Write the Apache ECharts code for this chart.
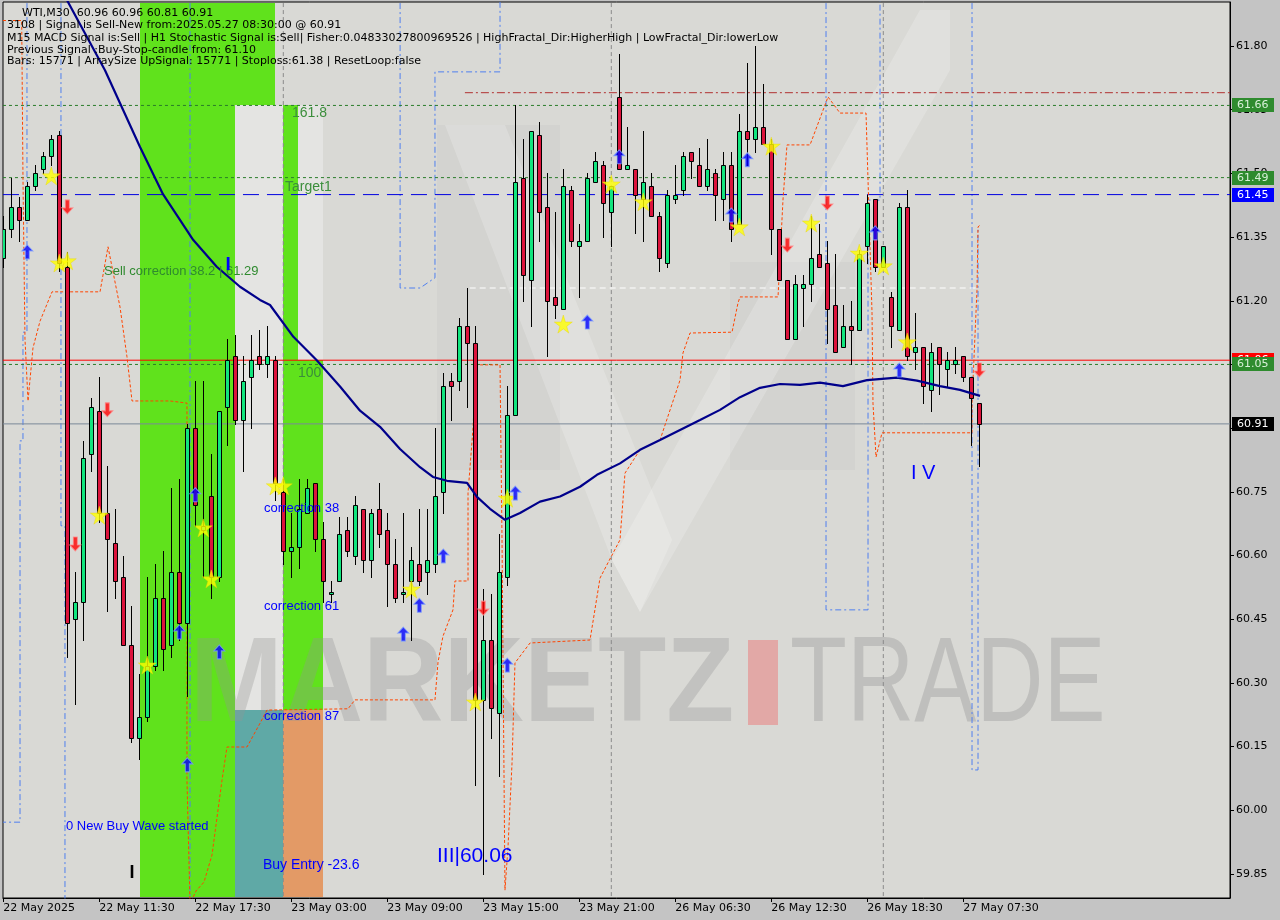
<!DOCTYPE html>
<html><head><meta charset="utf-8">
<script src="https://cdn.jsdelivr.net/npm/echarts@6/dist/echarts.min.js"></script>
<style>html,body{margin:0;padding:0;background:#c4c4c4;}#c{width:1280px;height:920px;}</style>
</head><body><div id="c"></div>
<script>
// ---------------- data ----------------
const timeLabels = ['22 May 2025','22 May 11:30','22 May 17:30','23 May 03:00','23 May 09:00','23 May 15:00','23 May 21:00','26 May 06:30','26 May 12:30','26 May 18:30','27 May 07:30'];
const timeTickIndex = [0,12,24,36,48,60,72,84,96,108,120];
const priceTicks = [59.85,60.00,60.15,60.30,60.45,60.60,60.75,60.90,61.05,61.20,61.35,61.50,61.65,61.80];

const opens = [61.30,61.37,61.42,61.39,61.47,61.51,61.54,61.59,61.28,60.45,
60.49,60.84,60.94,60.70,60.63,60.55,60.39,60.17,60.22,60.34,
60.50,60.39,60.56,60.44,60.90,60.66,60.74,60.55,60.95,61.07,
60.92,61.02,61.07,61.05,61.06,60.75,60.61,60.62,60.70,60.77,
60.64,60.51,60.54,60.66,60.60,60.71,60.59,60.71,60.66,60.58,
60.51,60.54,60.58,60.56,60.58,60.75,61.01,61.01,61.14,61.10,
60.26,60.40,60.23,60.55,60.93,61.49,61.25,61.59,61.42,61.21,
61.18,61.46,61.33,61.34,61.48,61.52,61.41,61.68,61.51,61.51,
61.44,61.47,61.40,61.29,61.44,61.46,61.55,61.52,61.47,61.50,
61.44,61.52,61.38,61.60,61.58,61.61,61.57,61.37,61.25,61.11,
61.23,61.24,61.31,61.29,61.19,61.09,61.14,61.13,61.33,61.44,
61.28,61.21,61.13,61.42,61.08,61.09,60.99,61.09,61.04,61.05,
61.07,61.02,60.96];
const highs = [61.40,61.49,61.445,61.48,61.52,61.55,61.59,61.60,61.315,60.56,
60.87,60.97,61.02,60.81,60.71,60.60,60.48,60.32,60.55,60.58,
60.61,60.76,60.78,60.91,61.01,61.01,60.84,60.94,61.11,61.12,
61.07,61.12,61.13,61.14,61.07,60.78,60.70,60.78,60.78,60.77,
60.68,60.54,60.69,60.69,60.74,60.71,60.71,60.77,60.70,60.64,
60.70,60.62,60.71,60.71,60.90,61.03,61.03,61.16,61.23,61.14,
60.52,60.51,60.65,61.00,61.66,61.58,61.60,61.62,61.50,61.41,
61.51,61.47,61.38,61.50,61.55,61.53,61.47,61.78,61.61,61.51,
61.60,61.50,61.41,61.46,61.52,61.55,61.55,61.56,61.58,61.51,
61.55,61.55,61.64,61.76,61.80,61.71,61.58,61.37,61.25,61.26,
61.26,61.40,61.38,61.34,61.31,61.19,61.20,61.32,61.45,61.44,
61.33,61.22,61.43,61.46,61.17,61.09,61.10,61.09,61.08,61.09,
61.07,61.02,60.96];
const lows = [61.28,61.35,61.34,61.39,61.46,61.50,61.52,61.27,60.36,60.25,
60.40,60.80,60.68,60.47,60.50,60.39,60.16,60.12,60.21,60.33,
60.33,60.36,60.40,60.27,60.67,60.55,60.50,60.54,60.86,60.91,
60.80,60.90,61.04,61.02,60.73,60.58,60.55,60.57,60.70,60.61,
60.49,60.49,60.54,60.60,60.58,60.56,60.55,60.62,60.48,60.49,
60.49,60.40,60.53,60.51,60.56,60.70,60.92,60.99,60.95,60.06,
59.85,60.17,60.08,60.53,60.93,61.20,61.14,61.34,61.07,61.16,
61.18,61.33,61.21,61.34,61.48,61.35,61.33,61.51,61.51,61.36,
61.34,61.40,61.27,61.28,61.43,61.45,61.49,61.47,61.46,61.39,
61.39,61.34,61.38,61.52,61.55,61.57,61.31,61.25,61.11,61.11,
61.14,61.20,61.28,61.10,61.08,61.09,61.05,61.13,61.29,61.27,
61.28,61.09,61.13,61.06,61.04,60.96,60.94,60.98,61.00,61.03,
61.01,60.86,60.81];
const closes = [61.37,61.42,61.39,61.47,61.50,61.54,61.58,61.29,60.44,60.49,
60.83,60.95,60.70,60.64,60.54,60.39,60.17,60.22,60.34,60.50,
60.38,60.56,60.44,60.90,60.72,60.67,60.55,60.94,61.06,60.92,
61.01,61.06,61.05,61.07,60.77,60.61,60.62,60.71,60.76,60.64,
60.54,60.515,60.65,60.61,60.72,60.59,60.70,60.65,60.58,60.50,
60.515,60.59,60.54,60.59,60.74,61.00,61.00,61.14,61.10,60.26,
60.40,60.24,60.56,60.93,61.48,61.26,61.60,61.41,61.20,61.19,
61.47,61.34,61.34,61.49,61.53,61.43,61.47,61.51,61.52,61.45,
61.48,61.40,61.30,61.45,61.45,61.54,61.53,61.47,61.51,61.45,
61.52,61.37,61.60,61.58,61.61,61.57,61.37,61.25,61.11,61.24,
61.24,61.30,61.28,61.18,61.08,61.14,61.13,61.31,61.43,61.28,
61.33,61.14,61.42,61.07,61.09,61.00,61.08,61.05,61.06,61.06,
61.02,60.97,60.91];

// moving average (bar index, price)
const maPoints = [[6.9,61.97],[7.96,61.908],[12.71,61.743],[17.09,61.562],[19.96,61.451],[23.75,61.343],[26.68,61.280],[29.59,61.233],[32.09,61.202],[33.34,61.19],[36.26,61.115],[39.18,61.060],[42.09,60.998],[44.59,60.941],[47.09,60.903],[49.59,60.851],[52.09,60.808],[53.71,60.785],[55.46,60.776],[57.96,60.771],[59.21,60.738],[60.84,60.710],[62.71,60.684],[64.59,60.700],[67.09,60.727],[69.59,60.739],[72.09,60.762],[74.21,60.790],[77.09,60.817],[79.59,60.849],[82.09,60.872],[87.09,60.919],[89.59,60.943],[92.09,60.973],[94.59,60.995],[97.09,61.004],[99.59,61.002],[102.09,61.007],[104.96,60.999],[107.96,61.013],[111.71,61.019],[114.21,61.012],[117.09,60.999],[119.59,60.990],[122.09,60.976]];

// orange stepped trailing line (bar index, price)
const trailPoints = [[-0.04,61.86],[2.3,61.86],[2.46,61.489],[2.71,61.110],[3.09,60.964],[3.71,61.089],[4.59,61.152],[6.09,61.221],[12.09,61.221],[13.09,61.327],[14.59,61.185],[15.46,61.068],[16.09,60.964],[20.84,60.964],[22.96,60.959],[22.96,60.071],[23.34,59.78],[24.09,59.810],[25.09,59.831],[26.09,59.895],[27.34,60.071],[27.96,60.149],[30.46,60.149],[32.09,60.205],[32.96,60.236],[43.09,60.239],[43.96,60.260],[53.96,60.260],[54.34,60.349],[54.96,60.410],[56.21,60.472],[56.46,60.540],[58.09,60.540],[58.09,60.747],[58.71,60.898],[59.09,61.049],[62.09,61.049],[62.34,60.637],[62.71,59.812],[63.09,59.914],[63.59,60.111],[63.96,60.347],[65.84,60.394],[73.34,60.401],[74.59,60.547],[76.09,60.601],[77.09,60.637],[77.71,60.794],[79.59,60.849],[82.09,60.872],[84.59,61.013],[84.96,61.077],[85.84,61.124],[91.09,61.126],[91.84,61.195],[92.09,61.209],[96.84,61.209],[97.46,61.437],[97.96,61.567],[100.84,61.567],[103.09,61.680],[104.59,61.642],[107.84,61.642],[108.09,61.484],[108.59,61.171],[108.71,60.959],[109.09,60.832],[109.84,60.889],[121.09,60.889],[121.09,60.959],[121.71,61.225],[121.84,61.374],[122.09,61.378]];

// blue dash-dot fractal channel pieces (bar index, price)
const channelA = [[2.96,62.0],[2.96,61.126],[2.46,61.126],[2.46,60.870],[2.09,60.870],[2.09,59.972],[-0.04,59.972]];
const channelB = [[7.21,62.0],[7.21,60.670],[7.71,60.670],[7.71,59.70]];
const channelC = [[23.34,62.0],[23.34,59.70]];
const channelD = [[49.6,62.0],[49.6,61.230],[52.09,61.230],[53.96,61.254],[53.96,61.739],[62.09,61.739],[62.09,62.0]];
const channelE = [[102.84,62.0],[102.84,60.472],[108.09,60.472],[108.09,61.437],[109.59,61.437],[109.59,62.0]];
const channelF = [[121.09,62.0],[121.09,60.095],[121.84,60.095],[121.84,61.367]];

// horizontal levels
const levelPrices = [61.69, 61.66, 61.49, 61.45, 61.23, 61.06, 61.05, 60.91];
const levelStart  = [57.7, -0.04, -0.04, -0.04, 58.3, -0.04, -0.04, -0.04];
const levelEnd    = [null, null, null, null, 121.7, null, null, null];
// price boxes on the right axis
const boxPrices = [61.66, 61.49, 61.45, 61.06, 61.05, 60.91];
const boxLabels = ['61.66','61.49','61.45','61.06','61.05','60.91'];
// vertical separators (bar index)
const separatorIndex = [35, 76, 110];

// rectangles: [startIndex, endIndex, lowPrice, highPrice]
const zoneRects = [
  [28.96, 34.96, 60.236, 61.66],
  [36.84, 39.96, 61.06, 61.66],
  [17.09, 28.96, 59.70, 62.0],
  [28.96, 33.96, 61.66, 62.0],
  [34.96, 36.84, 60.236, 61.66],
  [36.84, 39.96, 60.236, 61.06],
  [28.96, 34.96, 59.70, 60.236],
  [34.96, 39.96, 59.70, 60.236]
];

// signals
const buyArrows = [[3,61.315],[22,60.420],[23,60.107],[24,60.743],[27,60.373],[50,60.415],[52,60.483],[55,60.599],[63,60.342],[64,60.747],[73,61.150],[77,61.539],[91,61.402],[93,61.532],[109,61.360],[112,61.037]];
const sellArrows = [[8,61.421],[9,60.627],[13,60.943],[60,60.476],[98,61.331],[103,61.430],[122,61.037]];
const starMarks = [[6,61.494],[7,61.289],[8,61.294],[12,60.695],[18,60.342],[25,60.665],[26,60.545],[34,60.764],[35,60.764],[51,60.521],[59,60.255],[63,60.735],[70,61.145],[76,61.475],[80,61.433],[92,61.374],[96,61.564],[101,61.383],[107,61.312],[110,61.282],[113,61.103]];

// chart texts
const noteTexts = ['161.8','100','Target1','Sell correction 38.2 | 61.29','correction 38','correction 61','correction 87','Buy Entry -23.6','0 New Buy Wave started','I','I','III|60.06','I V'];
const notePos = [[36.09,61.642],[36.84,61.030],[35.21,61.468],[12.59,61.270],[32.59,60.712],[32.59,60.481],[32.59,60.220],[32.46,59.871],[7.84,59.963],[16.09,59.852],[28.09,61.285],[54.21,59.892],[113.46,60.794]];

const headerLines = [
  'WTI,M30  60.96 60.96 60.81 60.91',
  '3108 | Signal is Sell-New from:2025.05.27 08:30:00 @ 60.91',
  'M15 MACD Signal is:Sell | H1 Stochastic Signal is:Sell| Fisher:0.04833027800969526 | HighFractal_Dir:HigherHigh | LowFractal_Dir:lowerLow',
  'Previous Signal :Buy-Stop-candle from: 61.10',
  'Bars: 15771 | ArraySize UpSignal: 15771 | Stoploss:61.38 | ResetLoop:false'
];

// ---------------- styles / layout ----------------
const X_MIN = -0.0375, X_MAX = 153.3375, Y_MIN = 59.7934, Y_MAX = 61.9036;
const AXIS_FONT = '"DejaVu Sans", sans-serif';
const levelStyles = [
  {color:'#b03030', type:[8,3,2,3]},
  {color:'#2a7d2a', type:[3,3]},
  {color:'#2a7d2a', type:[3,3]},
  {color:'#0000e0', type:[16,8]},
  {color:'#ffffff', type:[6,4]},
  {color:'#ff0000', type:'solid'},
  {color:'#2a7d2a', type:[3,3]},
  {color:'#7a8898', type:'solid'}
];
const boxStyles = [
  {bg:'#2e8b2e', fg:'#d8f0d8'},{bg:'#2e8b2e', fg:'#d8f0d8'},{bg:'#0000ff', fg:'#ffffff'},
  {bg:'#ff0000', fg:'#ffffff'},{bg:'#2e8b2e', fg:'#d8f0d8'},{bg:'#000000', fg:'#ffffff'}
];
const zoneColors = ['#e4e4e2','#e4e4e2','#60e21c','#60e21c','#60e21c','#60e21c','#5fa9a6','#e39a66'];
const noteStyles = [
  {c:'#3b8e3b', f:'14px "Liberation Sans"', a:'left'},
  {c:'#3b8e3b', f:'14px "Liberation Sans"', a:'left'},
  {c:'#3b8e3b', f:'14px "Liberation Sans"', a:'left'},
  {c:'#2f8a2f', f:'13px "Liberation Sans"', a:'left'},
  {c:'#0000ff', f:'13px "Liberation Sans"', a:'left'},
  {c:'#0000ff', f:'13px "Liberation Sans"', a:'left'},
  {c:'#0000ff', f:'13px "Liberation Sans"', a:'left'},
  {c:'#0000ff', f:'14px "Liberation Sans"', a:'left'},
  {c:'#0000ff', f:'13px "Liberation Sans"', a:'left'},
  {c:'#000000', f:'bold 18px "Liberation Sans"', a:'center'},
  {c:'#0000ff', f:'bold 19px "Liberation Sans"', a:'center'},
  {c:'#0000ff', f:'21px "Liberation Sans"', a:'left'},
  {c:'#0000ff', f:'20px "Liberation Sans"', a:'left'}
];
const ARROW_UP = 'path://M5.5,0 L11,6 L7.5,6 L7.5,14 L3.5,14 L3.5,6 L0,6 Z';
const STAR = 'path://M50,0 L61,35 L98,35 L68,57 L79,91 L50,70 L21,91 L32,57 L2,35 L39,35 Z';

const chart = echarts.init(document.getElementById('c'), null, {renderer:'canvas'});

function polyline(data, color, dash, width, z){
  return {type:'line', data, showSymbol:false, symbol:'none', silent:true, z, animation:false,
    lineStyle:{color, width: width||1, type: dash}};
}

const series = [];
// zones
series.push({type:'custom', z:1, silent:true, clip:false, data: zoneRects,
  renderItem(params, api){
    const cs = params.coordSys;
    const p1 = api.coord([api.value(0), api.value(3)]);
    const p2 = api.coord([api.value(1), api.value(2)]);
    let x1 = Math.round(p1[0]), x2 = Math.round(p2[0]);
    let y1 = Math.max(Math.round(p1[1]), cs.y+1), y2 = Math.min(Math.round(p2[1]), cs.y+cs.height-1);
    return {type:'rect', shape:{x:x1, y:y1, width:x2-x1, height:y2-y1}, style:{fill: zoneColors[params.dataIndex]}};
  }});
// separators
separatorIndex.forEach(ix => series.push(polyline([[ix,62.0],[ix,59.7]], '#8a8a8a', [4,3], 1, 3)));
// channels
[channelA, channelB, channelC, channelD, channelE, channelF].forEach(c => series.push(polyline(c, '#4f7fef', [6,3,2,3], 1, 3)));
// levels
levelPrices.forEach((p,i) => {
  const s = levelStyles[i];
  series.push(polyline([[levelStart[i], p],[levelEnd[i] == null ? X_MAX : levelEnd[i], p]], s.color, s.type, 1, 3));
});
// trailing line
series.push(polyline(trailPoints, '#ff4500', [3,2], 1, 4));
// candles
series.push({type:'custom', z:5, silent:true, clip:true,
  data: opens.map((o,i) => [i, o, closes[i], lows[i], highs[i]]),
  encode:{x:0, y:[1,2,3,4]},
  renderItem(params, api){
    const i = api.value(0), o = api.value(1), c = api.value(2), l = api.value(3), h = api.value(4);
    const pO = api.coord([i,o]), pC = api.coord([i,c]), pH = api.coord([i,h]), pL = api.coord([i,l]);
    const cx = Math.round(pO[0]);
    const top = Math.round(Math.min(pO[1], pC[1])), bot = Math.round(Math.max(pO[1], pC[1]));
    const up = c >= o;
    return {type:'group', children:[
      {type:'line', shape:{x1:cx+0.5, y1:Math.round(pH[1]), x2:cx+0.5, y2:Math.round(pL[1])+1}, style:{stroke:'#000', lineWidth:1}},
      {type:'rect', shape:{x:cx-1.5, y:top+0.5, width:4, height:Math.max(bot-top,1)}, style:{fill: up ? '#12e57e' : '#dc143c', stroke:'#000', lineWidth:1}}
    ]};
  }});
// moving average
series.push(polyline(maPoints, '#00008b', 'solid', 2.2, 6));
// signals
series.push({type:'scatter', z:7, silent:true, data: starMarks, symbol: STAR, symbolSize: 18,
  itemStyle:{color:'#ffff00', borderColor:'#e8d800', borderWidth:0.5}});
series.push({type:'scatter', z:7, silent:true, data: buyArrows, symbol: ARROW_UP, symbolSize:[11,14],
  itemStyle:{color:'#0000ff', borderColor:'#7a9cff', borderWidth:1}});
series.push({type:'scatter', z:7, silent:true, data: sellArrows, symbol: ARROW_UP, symbolRotate:180, symbolSize:[11,14],
  itemStyle:{color:'#ff0000', borderColor:'#ff8a8a', borderWidth:1}});
// notes
series.push({type:'custom', z:8, silent:true, clip:false, data: notePos,
  renderItem(params, api){
    const p = api.coord([api.value(0), api.value(1)]);
    const st = noteStyles[params.dataIndex];
    return {type:'text', x:p[0], y:p[1], style:{text: noteTexts[params.dataIndex], fill: st.c, font: st.f, align: st.a, verticalAlign:'middle'}};
  }});
// right-axis price boxes
series.push({type:'custom', z:9, silent:true, clip:false, data: boxPrices.map(p => [X_MAX, p]),
  renderItem(params, api){
    const cs = params.coordSys;
    const p = api.coord([api.value(0), api.value(1)]);
    const st = boxStyles[params.dataIndex];
    const x = cs.x + cs.width + 2, y = Math.round(p[1]);
    return {type:'group', children:[
      {type:'rect', shape:{x:x, y:y-7, width:42, height:14}, style:{fill: st.bg}},
      {type:'text', x:x+5, y:y, style:{text: boxLabels[params.dataIndex], fill: st.fg, font:'11px ' + AXIS_FONT, verticalAlign:'middle', align:'left'}}
    ]};
  }});

const graphics = [
  // faint logo strokes in the background
  {type:'rect', z:1, silent:true, shape:{x:437, y:125, width:123, height:345}, style:{fill:'rgba(120,120,120,0.05)'}},
  {type:'rect', z:1, silent:true, shape:{x:730, y:262, width:125, height:208}, style:{fill:'rgba(120,120,120,0.05)'}},
  {type:'polygon', z:1, silent:true, shape:{points:[[445,125],[505,125],[672,540],[640,612],[612,560]]}, style:{fill:'rgba(255,255,255,0.2)'}},
  {type:'polygon', z:1, silent:true, shape:{points:[[612,560],[640,612],[950,70],[950,10],[920,10]]}, style:{fill:'rgba(255,255,255,0.2)'}},
  {type:'text', z:2, silent:true, x:190, y:688, scaleX:0.92, style:{text:'MARKETZ', font:'bold 121px "Liberation Sans"', fill:'rgba(150,150,150,0.33)', verticalAlign:'middle'}},
  {type:'rect', z:2, silent:true, shape:{x:748, y:640, width:30, height:85}, style:{fill:'rgba(235,120,120,0.5)'}},
  {type:'text', z:2, silent:true, x:790, y:688, scaleX:0.77, style:{text:'TRADE', font:'121px "Liberation Sans"', fill:'rgba(150,150,150,0.38)', verticalAlign:'middle'}}
];
const headerY = [12.7, 25.3, 37.7, 50, 61.5];
headerLines.forEach((t,i) => graphics.push({type:'text', z:50, silent:true, x: i===0 ? 22 : 7, y: headerY[i],
  style:{text:t, font:'11px ' + AXIS_FONT, fill:'#000', verticalAlign:'middle'}}));

chart.setOption({
  animation:false,
  backgroundColor:'#c4c4c4',
  grid:{left:3, right:50, top:2, bottom:22, show:true, backgroundColor:'#d9d9d5', borderColor:'#000', borderWidth:1},
  xAxis:{type:'value', min:X_MIN, max:X_MAX, splitLine:{show:false},
    axisLine:{show:true, onZero:false, lineStyle:{color:'#000'}},
    axisTick:{show:true, length:4, lineStyle:{color:'#000'}, customValues: timeTickIndex},
    axisLabel:{customValues: timeTickIndex, formatter: v => timeLabels[timeTickIndex.indexOf(Math.round(v))] || '',
      color:'#000', fontFamily: AXIS_FONT, fontSize:11, align:'left', margin:5}},
  yAxis:{type:'value', position:'right', min:Y_MIN, max:Y_MAX, scale:true, splitLine:{show:false},
    axisLine:{show:true, onZero:false, lineStyle:{color:'#000'}},
    axisTick:{show:true, length:4, lineStyle:{color:'#000'}, customValues: priceTicks},
    axisLabel:{customValues: priceTicks, formatter: v => v.toFixed(2), color:'#000', fontFamily: AXIS_FONT, fontSize:11, margin:6}},
  graphic: graphics,
  series
});
</script></body></html>
